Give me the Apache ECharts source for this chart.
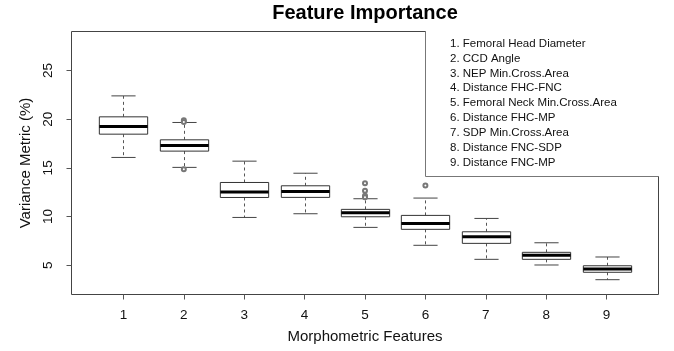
<!DOCTYPE html>
<html>
<head>
<meta charset="utf-8">
<script src="https://cdn.jsdelivr.net/npm/echarts@6/dist/echarts.min.js"></script>
<style>
html,body{margin:0;padding:0;background:#fff;}
#chart{width:674px;height:351px;}
</style>
</head>
<body>
<div id="chart"></div>
<script>
// ---- Data ----
const categories = [1, 2, 3, 4, 5, 6, 7, 8, 9];
const featureNames = [
  '1. Femoral Head Diameter',
  '2. CCD Angle',
  '3. NEP Min.Cross.Area',
  '4. Distance FHC-FNC',
  '5. Femoral Neck Min.Cross.Area',
  '6. Distance FHC-MP',
  '7. SDP Min.Cross.Area',
  '8. Distance FNC-SDP',
  '9. Distance FNC-MP'
];
const lowerWhisker = [16.07, 15.05, 9.91, 10.29, 8.89, 7.05, 5.61, 5.03, 3.52];
const q1Values     = [18.46, 16.72, 11.96, 11.97, 9.98, 8.69, 7.25, 5.61, 4.28];
const medianValues = [19.25, 17.30, 12.51, 12.58, 10.39, 9.30, 7.93, 6.02, 4.62];
const q3Values     = [20.24, 17.88, 13.50, 13.16, 10.74, 10.12, 8.44, 6.33, 4.95];
const upperWhisker = [22.39, 19.66, 15.69, 14.45, 11.83, 11.90, 9.81, 7.31, 5.85];
const outlierCategory = [2, 2, 2, 5, 5, 5, 5, 6];
const outlierValue    = [19.9, 19.72, 14.87, 13.41, 12.65, 12.15, 11.98, 13.2];
const yTicks = [5, 10, 15, 20, 25];
const xTicks = [1, 2, 3, 4, 5, 6, 7, 8, 9];

// ---- Build options ----
const boxData = categories.map((c, i) => [c, lowerWhisker[i], q1Values[i], medianValues[i], q3Values[i], upperWhisker[i]]);
const outlierData = outlierCategory.map((c, i) => [c, outlierValue[i]]);

const FONT = '"Liberation Sans", Arial, Helvetica, sans-serif';

function renderBox(params, api) {
  const x = api.value(0);
  const half = api.size([0.8, 0])[0] / 2;
  const capHalf = api.size([0.4, 0])[0] / 2;
  const pLW = api.coord([x, api.value(1)]);
  const pQ1 = api.coord([x, api.value(2)]);
  const pMed = api.coord([x, api.value(3)]);
  const pQ3 = api.coord([x, api.value(4)]);
  const pUW = api.coord([x, api.value(5)]);
  const cx = Math.round(pMed[0]) + 0.5;
  const dash = { stroke: '#555', lineWidth: 1, lineDash: [3, 3] };
  const solid = { stroke: '#444', lineWidth: 1 };
  return {
    type: 'group',
    children: [
      { type: 'line', shape: { x1: cx, y1: pQ3[1], x2: cx, y2: pUW[1] }, style: dash },
      { type: 'line', shape: { x1: cx, y1: pQ1[1], x2: cx, y2: pLW[1] }, style: dash },
      { type: 'line', shape: { x1: cx - capHalf, y1: pUW[1], x2: cx + capHalf, y2: pUW[1] }, style: solid },
      { type: 'line', shape: { x1: cx - capHalf, y1: pLW[1], x2: cx + capHalf, y2: pLW[1] }, style: solid },
      { type: 'rect', shape: { x: cx - half, y: pQ3[1], width: 2 * half, height: pQ1[1] - pQ3[1] },
        style: { fill: '#fff', stroke: '#333', lineWidth: 1 } },
      { type: 'line', shape: { x1: cx - half, y1: pMed[1], x2: cx + half, y2: pMed[1] },
        style: { stroke: '#000', lineWidth: 3 } }
    ]
  };
}

// Legend panel: white fill covering the plot frame's top-right corner, with left and bottom borders only
const legendGraphics = [
  { type: 'rect', z: 50, shape: { x: 426, y: 0, width: 248, height: 176 },
    style: { fill: '#fff', stroke: null } },
  { type: 'line', z: 51, shape: { x1: 425.5, y1: 31, x2: 425.5, y2: 176.5 },
    style: { stroke: '#777', lineWidth: 1 } },
  { type: 'line', z: 51, shape: { x1: 425.5, y1: 176.5, x2: 659, y2: 176.5 },
    style: { stroke: '#777', lineWidth: 1 } }
].concat(featureNames.map((t, i) => ({
  type: 'text', z: 52,
  style: { text: t, x: 450, y: 43.8 + i * 14.84, textAlign: 'left', textVerticalAlign: 'middle',
           font: '11.5px ' + FONT, fill: '#111' }
})));

const titleGraphic = {
  type: 'text', z: 60,
  style: { text: 'Feature Importance', x: 365, y: 13, textAlign: 'center', textVerticalAlign: 'middle',
           font: 'bold 20px ' + FONT, fill: '#000' }
};

const option = {
  animation: false,
  backgroundColor: '#fff',
  grid: { left: 71.5, right: 15.5, top: 31.5, bottom: 56.5, show: true, borderColor: '#444', borderWidth: 1, backgroundColor: 'transparent' },
  xAxis: {
    type: 'value', min: 0.14, max: 9.86,
    name: 'Morphometric Features', nameLocation: 'middle', nameGap: 35,
    nameTextStyle: { fontFamily: FONT, fontSize: 15, color: '#111' },
    axisLine: { show: false },
    axisTick: { show: true, inside: false, length: 5, customValues: xTicks, lineStyle: { color: '#555' } },
    axisLabel: { customValues: xTicks, margin: 14, fontFamily: FONT, fontSize: 13.5, color: '#111' },
    splitLine: { show: false }
  },
  yAxis: {
    type: 'value', min: 2, max: 29,
    name: 'Variance Metric (%)', nameLocation: 'middle', nameGap: 38,
    nameTextStyle: { fontFamily: FONT, fontSize: 15, color: '#111' },
    axisLine: { show: false },
    axisTick: { show: true, inside: false, length: 5, customValues: yTicks, lineStyle: { color: '#555' } },
    axisLabel: { customValues: yTicks, rotate: 90, margin: 16.5, fontFamily: FONT, fontSize: 13.5, color: '#111' },
    splitLine: { show: false }
  },
  series: [
    {
      type: 'custom',
      renderItem: renderBox,
      encode: { x: 0, y: [1, 2, 3, 4, 5] },
      data: boxData,
      z: 2
    },
    {
      type: 'scatter',
      data: outlierData,
      symbol: 'emptyCircle',
      symbolSize: 4,
      itemStyle: { color: '#777', borderColor: '#777', borderWidth: 0.8, opacity: 1 },
      z: 5
    }
  ],
  graphic: [titleGraphic].concat(legendGraphics)
};

const chart = echarts.init(document.getElementById('chart'), null, { renderer: 'canvas' });
chart.setOption(option);
</script>
</body>
</html>
